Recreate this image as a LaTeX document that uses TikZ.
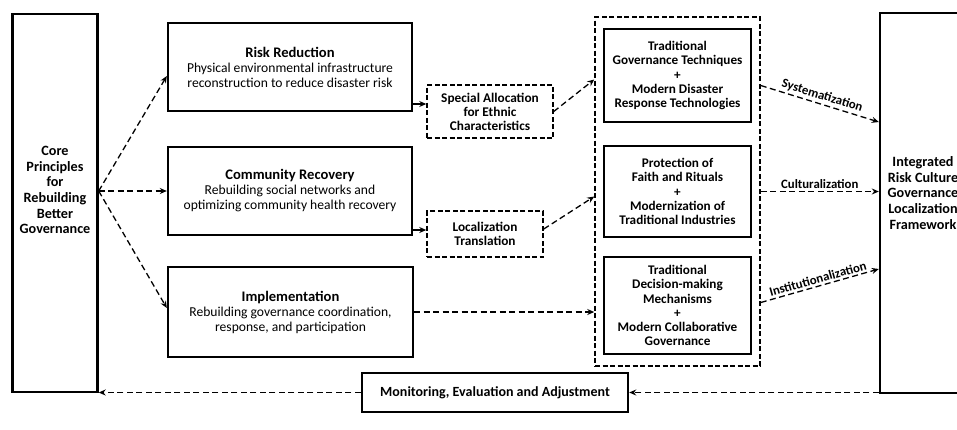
\documentclass[tikz,border=0pt]{standalone}
\usepackage{fontspec}
\setmainfont{Carlito}
\usetikzlibrary{arrows.meta,calc}
\newcommand{\titre}[1]{{\bfseries\fontsize{14.6}{15}\selectfont #1}}

\begin{document}
\begin{tikzpicture}[
    x=1pt, y=-1pt,  % On travaille en pixels, y vers le bas
    % Réglages des cadres
    cadre/.style={draw, line width=2.4pt, align=center, inner sep=2pt,
        font=\fontsize{13.6}{15}\selectfont},
    cadregras/.style={cadre, font=\bfseries\fontsize{13.2}{14.2}\selectfont},
    cadretirets/.style={draw, line width=1.5pt, dash pattern=on 5pt off 2.5pt,
        align=center, font=\bfseries\fontsize{13.3}{14}\selectfont},
    texte/.style={align=center, font=\bfseries\fontsize{14.2}{15.6}\selectfont},
    % Réglages des flèches
    fleche/.style={line width=1.3pt, dash pattern=on 6pt off 3.5pt,
        -{Stealth[length=7pt,width=6pt]}},
    flechepleine/.style={line width=1.3pt, -{Stealth[length=7pt,width=6pt]}},
    etiquette/.style={font=\bfseries\fontsize{12.8}{14}\selectfont, inner sep=2pt}
]
\useasboundingbox (0,0) rectangle (957,429);
\clip (0,0) rectangle (957,429);

% Colonne de gauche
\node[cadre, minimum width=85pt, minimum height=378pt] (core) at (55,203) {};
\node[texte] (coretxt) at (55,190) {Core\\Principles\\for\\Rebuilding\\Better\\Governance};

% Les trois axes
\node[cadre, minimum width=244pt, minimum height=88pt] (rr) at (290,67)
    {\titre{Risk Reduction}\\Physical environmental infrastructure\\reconstruction to reduce disaster risk};
\node[cadre, minimum width=244pt, minimum height=88pt] (cr) at (290,191)
    {\titre{Community Recovery}\\Rebuilding social networks and\\optimizing community health recovery};
\node[cadre, minimum width=245pt, minimum height=90pt] (impl) at (290.5,312)
    {\titre{Implementation}\\Rebuilding governance coordination,\\response, and participation};

% Adaptations
\node[cadretirets, minimum width=126pt, minimum height=53pt] (sa) at (490,111.5)
    {Special Allocation\\for Ethnic\\Characteristics};
\node[cadretirets, minimum width=116pt, minimum height=46pt] (loc) at (485,234)
    {Localization\\Translation};

% Bloc central
\node[cadretirets, minimum width=165pt, minimum height=349pt] (cont) at (677.5,191.5) {};
\node[cadregras, minimum width=147pt, minimum height=93pt] (b1) at (677.5,75.5)
    {Traditional\\Governance Techniques\\+\\Modern Disaster\\Response Technologies};
\node[cadregras, minimum width=147pt, minimum height=91pt] (b2) at (677.5,191.5)
    {Protection of\\Faith and Rituals\\+\\Modernization of\\Traditional Industries};
\node[cadregras, minimum width=147pt, minimum height=97pt] (b3) at (677.5,305.5)
    {Traditional\\Decision-making\\Mechanisms\\+\\Modern Collaborative\\Governance};

% Cadre de droite
\node[cadre, minimum width=86pt, minimum height=380pt] (intg) at (923,203) {};
\node[texte] (intgtxt) at (923,193) {Integrated\\Risk Culture\\Governance\\Localization\\Framework};

% Suivi
\node[cadregras, font=\bfseries\fontsize{14}{15}\selectfont, minimum width=266pt, minimum height=39pt] (mon) at (495,392.5)
    {Monitoring, Evaluation and Adjustment};

% Flèches
\coordinate (fan) at ($(core.east)+(0,-12)$);
\draw[fleche] (fan) -- ($(rr.west)+(0,9)$);
\draw[fleche] (fan) -- (cr.west);
\draw[fleche] (fan) -- ($(impl.west)+(0,-4)$);
\coordinate (rrout) at ($(rr.east)+(0,37)$);
\draw[flechepleine] (rrout) -- (rrout -| sa.west);
\coordinate (crout) at ($(cr.east)+(0,39)$);
\draw[flechepleine] (crout) -- (crout -| loc.west);
\draw[fleche] (impl.east) -- (impl.east -| cont.west);
\draw[fleche] (sa.east) -- ($(cont.west |- b1)+(0,4)$);
\draw[fleche] ($(loc.east)+(0,-5)$) -- ($(cont.west |- b2)+(0,5)$);

\draw[fleche] ($(cont.east)+(0,-106)$) -- ($(intg.west)+(0,-81)$)
    node[etiquette, midway, above, sloped] {Systematization};
\draw[fleche] (cont.east) -- (cont.east -| intg.west)
    node[etiquette, midway, above] {Culturalization};
\draw[fleche] ($(cont.east)+(0,111)$) -- ($(intg.west)+(0,66)$)
    node[etiquette, midway, above, sloped] {Institutionalization};

\draw[fleche] (intg.west |- mon) -- (mon.east);
\draw[fleche] (mon.west) -- (mon.west -| core.east);
\end{tikzpicture}
\end{document}
